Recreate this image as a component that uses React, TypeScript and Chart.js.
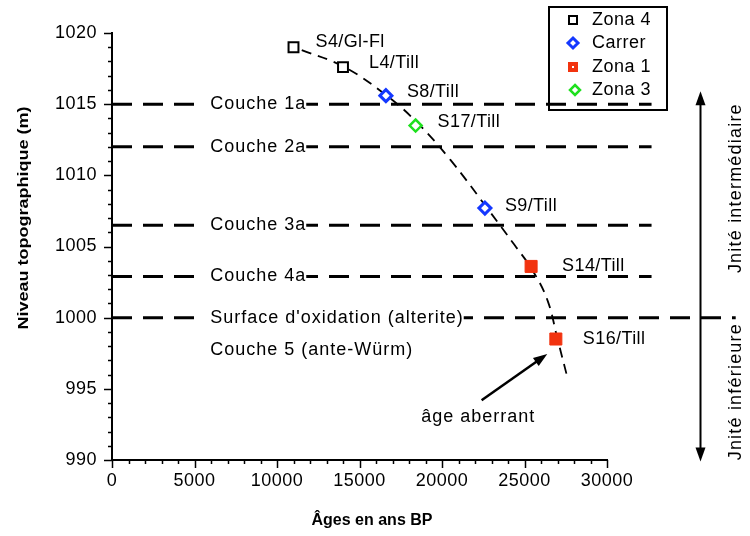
import React, { useEffect, useRef } from 'react';
import { Chart, registerables } from 'chart.js';

Chart.register(...registerables);

// ---------- data ----------
const zona4Ages = [11000, 14000];
const zona4Levels = [1019, 1017.6];
const zona4Labels = ['S4/Gl-Fl', 'L4/Till'];

const carrerAges = [16600, 22600];
const carrerLevels = [1015.6, 1007.7];
const carrerLabels = ['S8/Till', 'S9/Till'];

const zona1Ages = [25400, 26900];
const zona1Levels = [1003.6, 998.5];
const zona1Labels = ['S14/Till', 'S16/Till'];

const zona3Ages = [18400];
const zona3Levels = [1013.5];
const zona3Labels = ['S17/Till'];

const trendAges = [11500, 14100, 16700, 18500, 20500, 22800, 24400, 25500, 26400, 27000, 27600];
const trendLevels = [1018.8, 1017.6, 1015.55, 1013.7, 1011.1, 1007.6, 1005.1, 1003.3, 1001.2, 998.5, 995.8];

const layerNames = ['Couche 1a', 'Couche 2a', 'Couche 3a', 'Couche 4a', "Surface d'oxidation (alterite)"];
const layerLevels = [1015, 1012, 1006.5, 1002.9, 1000];
const layerEnds = [32700, 32700, 32700, 32700, 37800];
const layerLabelAge = 5950;
const extraLayerName = 'Couche 5 (ante-Würm)';
const extraLayerLevel = 997.75;

const unitNames = ['Jnité intermédiaire', 'Jnité inférieure'];
const unitCenterLevels = [1009.1, 994.8];
const unitArrowAge = 35650;
const unitTextAge = 37800;
const unitArrowTop = 1015.9;
const unitArrowBottom = 989.9;

const aberrantText = 'âge aberrant';
const aberrantTextAt = [22200, 993.0];
const aberrantArrowFrom = [22400, 994.2];
const aberrantArrowTo = [26380, 997.45];

const xMin = 0;
const xMax = 30000;
const xStep = 5000;
const xMinorStep = 1000;
const yMin = 990;
const yMax = 1020;
const yStep = 5;
const yMinorStep = 1;

const xTitle = 'Âges en ans BP';
const yTitle = 'Niveau topographique (m)';
const legendNames = ['Zona 4', 'Carrer', 'Zona 1', 'Zona 3'];

// ---------- styles ----------
const FONT = '"Liberation Sans", Arial, Helvetica, sans-serif';
const BLUE = '#1438ff';
const RED = '#f2330f';
const GREEN = '#1ee01e';

const labelOffsets: Record<string, [number, number]> = {
  'S4/Gl-Fl': [22, -5],
  'L4/Till': [26, -4],
  'S8/Till': [21, -4],
  'S9/Till': [20, -2],
  'S14/Till': [31, 0],
  'S16/Till': [27, 0],
  'S17/Till': [22, -3],
};

const toPts = (xs: number[], ys: number[]) => xs.map((x, i) => ({ x, y: ys[i] }));

function drawArrowHead(ctx: CanvasRenderingContext2D, x1: number, y1: number, x2: number, y2: number, len: number, half: number) {
  const a = Math.atan2(y2 - y1, x2 - x1);
  ctx.beginPath();
  ctx.moveTo(x2, y2);
  ctx.lineTo(x2 - len * Math.cos(a) + half * Math.sin(a), y2 - len * Math.sin(a) - half * Math.cos(a));
  ctx.lineTo(x2 - len * Math.cos(a) - half * Math.sin(a), y2 - len * Math.sin(a) + half * Math.cos(a));
  ctx.closePath();
  ctx.fill();
}

const setSpacing = (ctx: any, v: string) => {
  if ('letterSpacing' in ctx) ctx.letterSpacing = v;
};

const annotPlugin = {
  id: 'annot',
  beforeDraw(chart: any) {
    setSpacing(chart.ctx, '0.5px');
  },
  afterDatasetsDraw(chart: any) {
    const ctx: CanvasRenderingContext2D = chart.ctx;
    const xs = chart.scales.x;
    const ys = chart.scales.y;
    const area = chart.chartArea;
    ctx.save();

    // axis ticks (major + minor)
    ctx.strokeStyle = '#000';
    ctx.lineWidth = 1.5;
    for (let v = yMin; v <= yMax + 1e-6; v += yMinorStep) {
      const py = Math.round(ys.getPixelForValue(v)) + 0.5;
      const major = Math.abs((v - yMin) % yStep) < 1e-6;
      ctx.beginPath();
      ctx.moveTo(area.left - (major ? 8 : 4), py);
      ctx.lineTo(area.left, py);
      ctx.stroke();
    }
    for (let v = xMin; v <= xMax + 1e-6; v += xMinorStep) {
      const px = Math.round(xs.getPixelForValue(v)) + 0.5;
      const major = Math.abs(v % xStep) < 1e-6;
      ctx.beginPath();
      ctx.moveTo(px, area.bottom);
      ctx.lineTo(px, area.bottom + (major ? 8 : 4));
      ctx.stroke();
    }

    // layer labels with white background
    ctx.font = `18px ${FONT}`;
    ctx.textBaseline = 'middle';
    ctx.textAlign = 'left';
    setSpacing(ctx, '1px');
    const lx = xs.getPixelForValue(layerLabelAge);
    layerNames.forEach((name, i) => {
      const py = ys.getPixelForValue(layerLevels[i]);
      const w = ctx.measureText(name).width;
      ctx.fillStyle = '#fff';
      ctx.fillRect(lx - 6, py - 4, w + 6, 8);
      ctx.fillStyle = '#000';
      ctx.fillText(name, lx, py);
    });
    ctx.fillText(extraLayerName, lx, ys.getPixelForValue(extraLayerLevel));

    // point labels
    setSpacing(ctx, '0.4px');
    const groups: [number[], number[], string[]][] = [
      [zona4Ages, zona4Levels, zona4Labels],
      [carrerAges, carrerLevels, carrerLabels],
      [zona1Ages, zona1Levels, zona1Labels],
      [zona3Ages, zona3Levels, zona3Labels],
    ];
    groups.forEach(([ax, ay, al]) => {
      al.forEach((t, i) => {
        const off = labelOffsets[t] || [22, -3];
        ctx.fillText(t, xs.getPixelForValue(ax[i]) + off[0], ys.getPixelForValue(ay[i]) + off[1]);
      });
    });

    // "âge aberrant" with arrow
    setSpacing(ctx, '1px');
    ctx.textAlign = 'center';
    ctx.fillText(aberrantText, xs.getPixelForValue(aberrantTextAt[0]), ys.getPixelForValue(aberrantTextAt[1]));
    {
      const x1 = xs.getPixelForValue(aberrantArrowFrom[0]);
      const y1 = ys.getPixelForValue(aberrantArrowFrom[1]);
      const x2 = xs.getPixelForValue(aberrantArrowTo[0]);
      const y2 = ys.getPixelForValue(aberrantArrowTo[1]);
      ctx.lineWidth = 2.5;
      ctx.beginPath();
      ctx.moveTo(x1, y1);
      ctx.lineTo(x1 + (x2 - x1) * 0.85, y1 + (y2 - y1) * 0.85);
      ctx.stroke();
      ctx.fillStyle = '#000';
      drawArrowHead(ctx, x1, y1, x2, y2, 14, 5);
    }

    // unit double arrow on the right
    {
      const ax = Math.round(xs.getPixelForValue(unitArrowAge)) + 0.5;
      const yt = ys.getPixelForValue(unitArrowTop);
      const yb = ys.getPixelForValue(unitArrowBottom);
      ctx.lineWidth = 2;
      ctx.beginPath();
      ctx.moveTo(ax, yt + 10);
      ctx.lineTo(ax, yb - 10);
      ctx.stroke();
      drawArrowHead(ctx, ax, yb, ax, yt, 14, 5);
      drawArrowHead(ctx, ax, yt, ax, yb, 14, 5);
      const tx = xs.getPixelForValue(unitTextAge);
      unitNames.forEach((n, i) => {
        ctx.save();
        ctx.translate(tx, ys.getPixelForValue(unitCenterLevels[i]));
        ctx.rotate(-Math.PI / 2);
        ctx.textAlign = 'center';
        ctx.textBaseline = 'middle';
        ctx.font = `18px ${FONT}`;
        setSpacing(ctx, '1.2px');
        ctx.fillText(n, 0, 0);
        ctx.restore();
      });
    }

    // axis titles
    setSpacing(ctx, '0px');
    ctx.fillStyle = '#000';
    ctx.font = `bold 16px ${FONT}`;
    ctx.textAlign = 'center';
    ctx.textBaseline = 'middle';
    ctx.fillText(xTitle, 372, 521);
    ctx.save();
    ctx.translate(24, 218);
    ctx.rotate(-Math.PI / 2);
    ctx.scale(1.2, 1);
    ctx.font = `bold 15px ${FONT}`;
    ctx.fillText(yTitle, 0, 0);
    ctx.restore();

    // legend
    ctx.lineWidth = 2;
    ctx.strokeStyle = '#000';
    ctx.strokeRect(549, 7, 118, 103);
    const rows = [20, 43, 67, 90];
    const mx = 573;
    ctx.lineWidth = 2;
    ctx.strokeRect(mx - 4, rows[0] - 4, 8, 8);
    ctx.strokeStyle = BLUE;
    ctx.lineWidth = 3;
    ctx.beginPath();
    ctx.moveTo(mx, rows[1] - 5);
    ctx.lineTo(mx + 5, rows[1]);
    ctx.lineTo(mx, rows[1] + 5);
    ctx.lineTo(mx - 5, rows[1]);
    ctx.closePath();
    ctx.stroke();
    ctx.fillStyle = RED;
    ctx.fillRect(mx - 5, rows[2] - 5, 10, 10);
    ctx.fillStyle = '#fff';
    ctx.fillRect(mx - 1, rows[2] - 1, 2, 2);
    ctx.strokeStyle = GREEN;
    ctx.lineWidth = 2.5;
    ctx.beginPath();
    ctx.moveTo(mx + 2, rows[3] - 5);
    ctx.lineTo(mx + 7, rows[3]);
    ctx.lineTo(mx + 2, rows[3] + 5);
    ctx.lineTo(mx - 3, rows[3]);
    ctx.closePath();
    ctx.stroke();
    ctx.fillStyle = '#000';
    ctx.font = `18px ${FONT}`;
    ctx.textAlign = 'left';
    setSpacing(ctx, '0.5px');
    legendNames.forEach((n, i) => ctx.fillText(n, 592, rows[i]));

    ctx.restore();
  },
};

export default function App() {
  const ref = useRef<HTMLCanvasElement | null>(null);
  useEffect(() => {
    if (!ref.current) return;
    document.body.style.margin = '0';
    const layerSets = layerNames.map((n, i) => ({
      label: n,
      data: [
        { x: 0, y: layerLevels[i] },
        { x: layerEnds[i], y: layerLevels[i] },
      ],
      showLine: true,
      borderColor: '#000',
      borderWidth: 3,
      borderDash: [20, 11],
      pointRadius: 0,
      clip: false,
      order: 5,
    }));
    const chart = new Chart(ref.current, {
      type: 'scatter',
      data: {
        datasets: [
          ...layerSets,
          {
            label: 'trend',
            data: toPts(trendAges, trendLevels),
            showLine: true,
            borderColor: '#000',
            borderWidth: 1.8,
            borderDash: [10, 7],
            pointRadius: 0,
            tension: 0.4,
            clip: false,
            order: 4,
          },
          {
            label: 'Zona 4',
            data: toPts(zona4Ages, zona4Levels),
            pointStyle: 'rect',
            pointRadius: 7,
            borderColor: '#000',
            backgroundColor: '#fff',
            borderWidth: 2,
            order: 1,
          },
          {
            label: 'Carrer',
            data: toPts(carrerAges, carrerLevels),
            pointStyle: 'rectRot',
            pointRadius: 6,
            borderColor: BLUE,
            backgroundColor: '#fff',
            borderWidth: 3,
            order: 1,
          },
          {
            label: 'Zona 1',
            data: toPts(zona1Ages, zona1Levels),
            pointStyle: 'rect',
            pointRadius: 8.5,
            borderColor: RED,
            backgroundColor: RED,
            borderWidth: 1,
            order: 1,
          },
          {
            label: 'Zona 3',
            data: toPts(zona3Ages, zona3Levels),
            pointStyle: 'rectRot',
            pointRadius: 6,
            borderColor: GREEN,
            backgroundColor: '#fff',
            borderWidth: 2.5,
            order: 1,
          },
        ] as any,
      },
      options: {
        responsive: false,
        animation: false,
        devicePixelRatio: 1,
        layout: { padding: { top: 33, right: 143, left: 0, bottom: 0 } },
        plugins: {
          legend: { display: false },
          tooltip: { enabled: false },
        },
        scales: {
          x: {
            type: 'linear',
            min: xMin,
            max: xMax,
            ticks: {
              stepSize: xStep,
              color: '#000',
              font: { family: FONT, size: 18 },
              padding: 10,
              maxRotation: 0,
              callback: (v: any) => String(v),
            },
            grid: { display: false, drawTicks: false },
            border: { display: true, color: '#000', width: 2 },
            afterFit: (s: any) => { s.height = 76; },
          },
          y: {
            type: 'linear',
            min: yMin,
            max: yMax,
            ticks: {
              stepSize: yStep,
              color: '#000',
              font: { family: FONT, size: 18 },
              padding: 15,
              callback: (v: any) => String(v),
            },
            grid: { display: false, drawTicks: false },
            border: { display: true, color: '#000', width: 2 },
            afterFit: (s: any) => { s.width = 112; },
          },
        },
      } as any,
      plugins: [annotPlugin],
    });
    return () => chart.destroy();
  }, []);
  return (
    <div style={{ position: 'absolute', left: 0, top: 0, width: 750, height: 536, background: '#fff' }}>
      <canvas ref={ref} width={750} height={536} />
    </div>
  );
}
